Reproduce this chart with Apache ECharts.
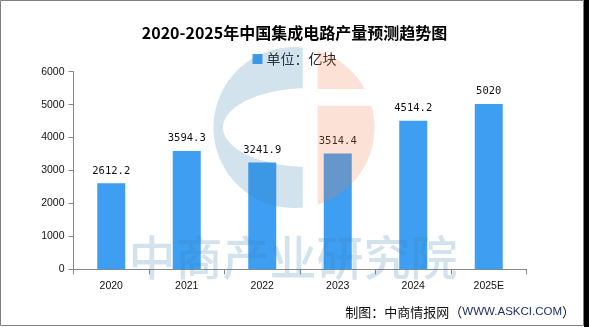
<!DOCTYPE html>
<html>
<head>
<meta charset="utf-8">
<script src="https://cdn.jsdelivr.net/npm/echarts@6/dist/echarts.min.js"></script>
<style>
  html, body { margin: 0; padding: 0; background: #fff; }
  #chart { width: 589px; height: 327px; }
</style>
</head>
<body>
<div id="chart"></div>
<script>
// 中国集成电路产量（亿块）
const years = ['2020', '2021', '2022', '2023', '2024', '2025E'];
const output = [2612.2, 3594.3, 3241.9, 3514.4, 4514.2, 5020];
const yTicks = [0, 1000, 2000, 3000, 4000, 5000, 6000];

const titleText = '2020-2025年中国集成电路产量预测趋势图';
const unitText = '单位：亿块';

// Logo geometry: circle split into a blue "C" and an orange half with a slit
const logo = { cx: 294, cy: 127.5, r: 80.5, blueRight: 302.7, orangeLeft: 317.7,
               ex: 310, ey: 127.5, ea: 87, eb: 39.5, slitTop: 89, slitBottom: 105.7 };
const wmBlue = 'rgba(61,134,182,0.23)';
const wmOrange = 'rgba(238,126,78,0.23)';

function arcPts(cx, cy, rx, ry, a0, a1, n) {
  const pts = [];
  for (let i = 0; i <= n; i++) {
    const t = a0 + (a1 - a0) * i / n;
    pts.push([cx + rx * Math.cos(t), cy + ry * Math.sin(t)]);
  }
  return pts;
}

function bluePoly() {
  const L = logo;
  const c = Math.acos((L.blueRight - L.cx) / L.r);
  let pts = arcPts(L.cx, L.cy, L.r, L.r, -c, -(2 * Math.PI - c), 80);
  const ce = Math.acos((L.blueRight - L.ex) / L.ea);
  pts = pts.concat(arcPts(L.ex, L.ey, L.ea, L.eb, ce, 2 * Math.PI - ce, 80));
  return pts;
}

function orangePolys() {
  const L = logo;
  const top = Math.atan2(-Math.sqrt(L.r * L.r - (L.orangeLeft - L.cx) ** 2), L.orangeLeft - L.cx);
  const s1 = Math.asin((L.slitTop - L.cy) / L.r);
  const s2 = Math.asin((L.slitBottom - L.cy) / L.r);
  const upper = arcPts(L.cx, L.cy, L.r, L.r, top, s1, 40);
  upper.push([L.orangeLeft, L.slitTop]);
  const lower = [[L.orangeLeft, L.slitBottom]].concat(arcPts(L.cx, L.cy, L.r, L.r, s2, -top, 60));
  return [upper, lower];
}

const chart = echarts.init(document.getElementById('chart'), null, { renderer: 'canvas' });
const [orUpper, orLower] = orangePolys();

chart.setOption({
  backgroundColor: '#ffffff',
  animation: false,
  title: {
    text: titleText,
    left: 'center',
    top: 20,
    textStyle: { fontFamily: 'Noto Sans CJK SC', fontWeight: 'bold', fontSize: 16, color: '#000' }
  },
  legend: {
    data: [unitText],
    left: 'center',
    top: 52,
    padding: 0,
    itemWidth: 10,
    itemHeight: 10,
    icon: 'rect',
    textStyle: { fontFamily: 'Noto Sans CJK SC', fontSize: 14, color: '#222', padding: [0, 0, 0, -1] }
  },
  grid: { left: 73.5, right: 62.5, top: 71.7, bottom: 57.7, containLabel: false },
  xAxis: {
    type: 'category',
    data: years,
    axisLine: { lineStyle: { color: '#878787', width: 1 } },
    axisTick: { show: true, length: 5, lineStyle: { color: '#878787' } },
    axisLabel: { fontFamily: 'Liberation Sans', fontSize: 10.5, color: '#111', margin: 11 }
  },
  yAxis: {
    type: 'value',
    min: yTicks[0],
    max: yTicks[yTicks.length - 1],
    interval: yTicks[1] - yTicks[0],
    axisLine: { show: true, lineStyle: { color: '#878787', width: 1 } },
    axisTick: { show: true, length: 5, lineStyle: { color: '#878787' } },
    splitLine: { show: false },
    axisLabel: {
      fontFamily: 'Liberation Sans', fontSize: 10.5, color: '#111', margin: 9,
      formatter: v => String(v)
    }
  },
  series: [{
    name: unitText,
    type: 'bar',
    data: output,
    barWidth: 28,
    itemStyle: { color: '#3d9ef2' },
    label: {
      show: true,
      position: 'top',
      distance: 7,
      fontFamily: 'DejaVu Sans Mono',
      fontSize: 10.5,
      color: '#111',
      formatter: p => String(p.value)
    }
  }],
  graphic: [
    // watermark logo
    { type: 'polygon', z: 100, silent: true, shape: { points: bluePoly() }, style: { fill: wmBlue } },
    { type: 'polygon', z: 100, silent: true, shape: { points: orUpper }, style: { fill: wmOrange } },
    { type: 'polygon', z: 100, silent: true, shape: { points: orLower }, style: { fill: wmOrange } },
    // watermark name
    {
      type: 'text', z: 100, silent: true,
      x: 293, y: 257,
      style: {
        text: '中商产业研究院',
        font: '500 47px "Noto Sans CJK SC"',
        fill: wmBlue,
        align: 'center',
        verticalAlign: 'middle'
      }
    },
    // source note
    {
      type: 'text', z: 100, silent: true,
      x: 575, y: 312,
      style: {
        text: '{a|制图：中商情报网（}{b|WWW.ASKCI.COM}{a|）}',
        align: 'right',
        verticalAlign: 'middle',
        rich: {
          a: { fontFamily: 'Noto Sans CJK SC', fontSize: 13, fill: '#111' },
          b: { fontFamily: 'Liberation Sans', fontSize: 11.5, fill: '#1c2f66' }
        }
      }
    },
    // frame
    { type: 'rect', z: 110, silent: true, shape: { x: 0.5, y: 0.5, width: 583, height: 325 },
      style: { fill: 'none', stroke: '#808080', lineWidth: 1 } },
    { type: 'rect', z: 110, silent: true, shape: { x: 584, y: 0, width: 5, height: 327 },
      style: { fill: '#000' } }
  ]
});
</script>
</body>
</html>
